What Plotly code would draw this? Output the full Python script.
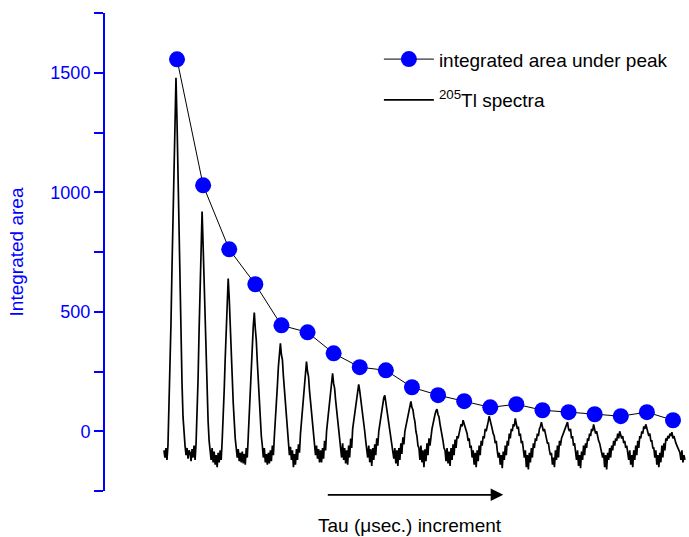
import plotly.graph_objects as go

# integrated area under each peak (20 tau increments)
tau_index = list(range(1, 21))
integrated_area = [1556, 1029, 761, 615, 443, 414, 326, 268, 255, 184,
                   151, 126, 100, 113, 88, 80, 71, 63, 80, 46]

# 205Tl spectrum (26 channels per peak, same vertical units)
spectrum = [
    -80, -110, -70, -120, -60, 80, 250, 450, 680, 920, 1150, 1380, 1479, 1300, 1050, 800, 580, 380, 200, 60, -30, -60, -100, -70, -115, -80,
    -90, -125, -75, -110, -60, -120, -50, 60, 220, 420, 620, 800, 919, 780, 610, 440, 290, 150, 40, -40, -80, -120, -70, -130, -85, -140,
    -100, -150, -90, -130, -80, -120, -40, 50, 170, 300, 430, 560, 639, 560, 470, 350, 230, 120, 30, -30, -70, -110, -75, -125, -90, -130,
    -85, -135, -95, -140, -70, -110, -20, 60, 150, 250, 350, 440, 497, 430, 380, 290, 200, 110, 40, -20, -60, -110, -70, -130, -95, -140,
    -90, -135, -80, -125, -60, -100, -20, 40, 110, 190, 270, 330, 368, 320, 300, 230, 170, 100, 40, -10, -60, -100, -65, -120, -80, -150,
    -95, -140, -75, -120, -55, -90, -10, 40, 100, 160, 220, 270, 292, 250, 230, 170, 120, 70, 20, -30, -55, -100, -60, -115, -75, -130,
    -80, -130, -70, -115, -40, -80, 0, 40, 90, 130, 180, 220, 242, 200, 180, 130, 100, 50, 10, -40, -60, -110, -50, -120, -70, -135,
    -80, -140, -60, -110, -30, -70, 10, 40, 80, 110, 150, 180, 196, 170, 140, 110, 70, 40, 0, -40, -70, -110, -60, -130, -75, -145,
    -70, -120, -55, -100, -30, -60, 0, 30, 60, 90, 110, 140, 150, 120, 110, 70, 50, 10, -20, -50, -80, -115, -70, -135, -80, -145,
    -70, -120, -50, -95, -25, -55, 0, 20, 50, 70, 95, 110, 125, 100, 90, 60, 40, 0, -20, -60, -70, -120, -60, -130, -80, -150,
    -75, -125, -50, -100, -30, -60, -10, 10, 30, 55, 70, 85, 92, 70, 60, 30, 10, -20, -40, -70, -80, -125, -70, -135, -85, -145,
    -70, -120, -55, -100, -35, -70, -20, -30, 0, 10, 30, 20, 46, 30, 20, 0, -10, -40, -30, -70, -60, -110, -80, -140, -90, -150,
    -80, -125, -60, -100, -40, -60, -20, -30, 10, 0, 30, 40, 63, 40, 30, 10, -10, -20, -50, -40, -80, -110, -90, -140, -100, -155,
    -85, -120, -60, -100, -40, -60, -10, -30, 10, 0, 30, 20, 54, 30, 10, 20, -20, -10, -50, -40, -90, -110, -80, -150, -100, -160,
    -90, -130, -70, -110, -50, -70, -30, -40, -10, -20, 10, 20, 38, 20, 0, 10, -20, -30, -50, -50, -80, -100, -90, -140, -110, -150,
    -80, -120, -60, -110, -40, -60, -30, -20, -10, 0, 10, 20, 38, 10, 0, 10, -30, -20, -60, -50, -90, -120, -80, -145, -100, -155,
    -85, -120, -60, -100, -50, -70, -30, -40, -10, -20, 10, 0, 29, 10, -10, 0, -30, -40, -50, -70, -80, -110, -90, -150, -100, -160,
    -90, -120, -70, -110, -60, -80, -40, -60, -30, -40, -10, -30, 0, -20, -30, -20, -50, -40, -70, -60, -90, -120, -80, -140, -100, -150,
    -80, -120, -60, -100, -40, -70, -20, -30, 0, -10, 20, 10, 29, 10, 0, -20, -10, -40, -40, -70, -70, -110, -80, -140, -100, -150,
    -90, -130, -60, -110, -50, -80, -30, -40, -20, -30, -10, -20, -4, -30, -20, -40, -50, -60, -70, -80, -90, -120, -80, -130, -100, -120,
]
channels = list(range(len(spectrum)))

y_ticks = [0, 500, 1000, 1500]
y_minor = [-250, 250, 750, 1250, 1750]
BLUE = "#0000FF"
FONT = "Liberation Sans, Arial, sans-serif"
FS = 18

fig = go.Figure()
fig.add_trace(go.Scatter(
    x=channels, y=spectrum, xaxis="x2", mode="lines",
    line=dict(color="black", width=1.7),
    name="<sup>205</sup>Tl spectra", legendrank=2, legendgroup="spec",
))
fig.add_trace(go.Scatter(
    x=tau_index, y=integrated_area, mode="lines+markers",
    line=dict(color="black", width=1),
    marker=dict(color=BLUE, size=16, line=dict(width=0)),
    name="integrated area under peak", legendrank=1, legendgroup="area",
))

fig.update_layout(
    width=689, height=537,
    margin=dict(l=105, r=0, t=13, b=46),
    paper_bgcolor="white", plot_bgcolor="white",
    font=dict(family=FONT, size=FS, color="black"),
    showlegend=True,
    legend=dict(x=0.469, y=0.943, xanchor="left", yanchor="top",
                bgcolor="rgba(0,0,0,0)", traceorder="grouped",
                tracegroupgap=13,
                font=dict(size=19, family=FONT), itemwidth=50),
    xaxis=dict(range=[-1.759, 20.613], visible=False),
    xaxis2=dict(range=[-58.72, 523.03], overlaying="x", visible=False),
    yaxis=dict(
        range=[-250, 1750], tickvals=y_ticks, showgrid=False, zeroline=False,
        showline=True, linecolor=BLUE, linewidth=2,
        ticks="outside", ticklen=9, tickwidth=2, tickcolor=BLUE,
        minor=dict(tickvals=y_minor, ticks="outside",
                   ticklen=9, tickwidth=2, tickcolor=BLUE),
        tickfont=dict(color=BLUE, size=FS, family=FONT),
        title=dict(text="Integrated area", font=dict(color=BLUE, size=19, family=FONT),
                   standoff=22),
    ),
    annotations=[
        dict(xref="paper", yref="paper", x=0.682, y=-0.008, ax=-177, ay=0,
             axref="pixel", ayref="pixel", text="", showarrow=True,
             arrowhead=2, arrowsize=1.4, arrowwidth=1.8, arrowcolor="black"),
        dict(xref="paper", yref="paper", x=0.522, y=-0.073, xanchor="center",
             yanchor="middle", text="Tau (\u03bcsec.) increment", showarrow=False,
             font=dict(size=19, family=FONT, color="black")),
    ],
)

fig.write_html("out.html")
